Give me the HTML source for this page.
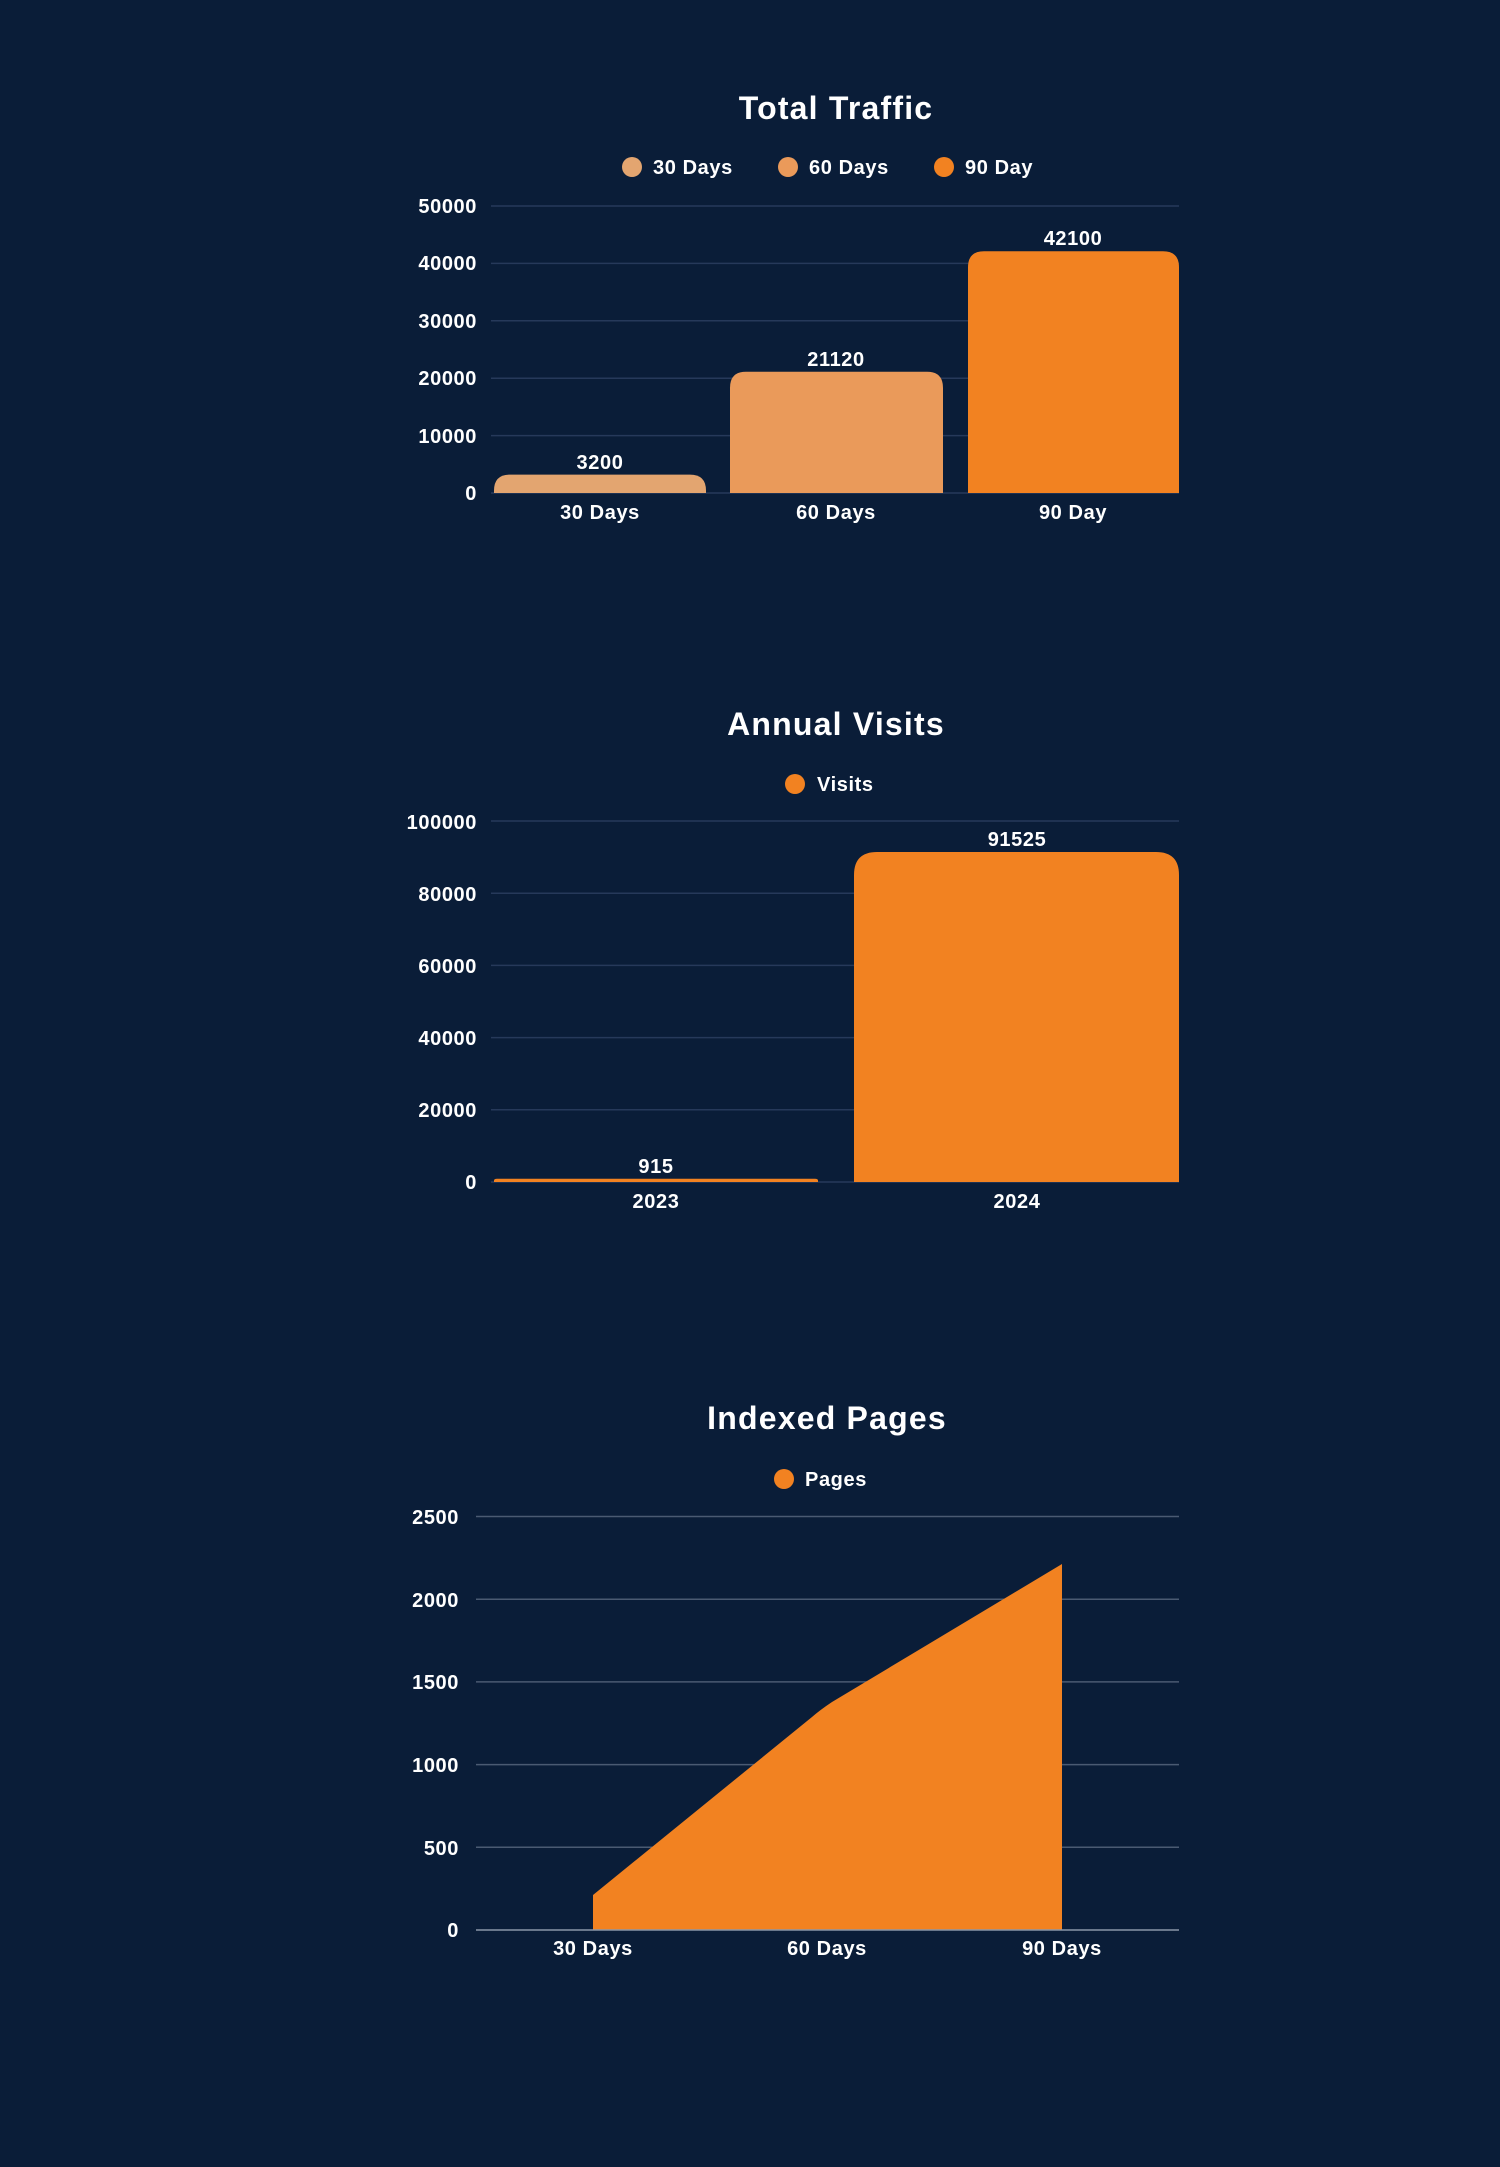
<!DOCTYPE html>
<html><head><meta charset="utf-8"><style>
html,body{margin:0;padding:0;background:#0A1D38;}
svg{display:block}
text{font-family:"Liberation Sans",sans-serif;font-weight:bold;fill:#fff;letter-spacing:0.6px}
.t{letter-spacing:1.2px}
</style></head><body>
<svg width="1500" height="2167" viewBox="0 0 1500 2167" xmlns="http://www.w3.org/2000/svg">
<rect width="1500" height="2167" fill="#0A1D38"/>
<!-- Chart 1 -->
<text class="t" x="836" y="119" font-size="32" text-anchor="middle">Total Traffic</text>
<g font-size="20">
<circle cx="632" cy="167" r="10" fill="#E3A570"/><text x="653" y="174">30 Days</text>
<circle cx="788" cy="167" r="10" fill="#EA9A5A"/><text x="809" y="174">60 Days</text>
<circle cx="944" cy="167" r="10" fill="#F28221"/><text x="965" y="174">90 Day</text>
</g>
<g stroke="#26395A" stroke-width="1.5">
<line x1="491" y1="206" x2="1179" y2="206"/><line x1="491" y1="263.4" x2="1179" y2="263.4"/>
<line x1="491" y1="320.8" x2="1179" y2="320.8"/><line x1="491" y1="378.2" x2="1179" y2="378.2"/>
<line x1="491" y1="435.6" x2="1179" y2="435.6"/><line x1="491" y1="493" x2="1179" y2="493"/>
</g>
<g font-size="20" text-anchor="end">
<text x="477" y="213">50000</text><text x="477" y="270">40000</text><text x="477" y="328">30000</text>
<text x="477" y="385">20000</text><text x="477" y="443">10000</text><text x="477" y="500">0</text>
</g>
<path d="M494 493 V490.6 Q494 474.6 510 474.6 H690 Q706 474.6 706 490.6 V493 Z" fill="#E3A570"/>
<path d="M730 493 V387.8 Q730 371.8 746 371.8 H927 Q943 371.8 943 387.8 V493 Z" fill="#EA9A5A"/>
<path d="M968 493 V267.3 Q968 251.3 984 251.3 H1163 Q1179 251.3 1179 267.3 V493 Z" fill="#F28221"/>
<g font-size="20" text-anchor="middle">
<text x="600" y="469">3200</text><text x="836" y="366">21120</text><text x="1073" y="245">42100</text>
<text x="600" y="519">30 Days</text><text x="836" y="519">60 Days</text><text x="1073" y="519">90 Day</text>
</g>
<!-- Chart 2 -->
<text class="t" x="836" y="735" font-size="32" text-anchor="middle">Annual Visits</text>
<circle cx="795" cy="784" r="10" fill="#F28221"/><text x="817" y="791" font-size="20">Visits</text>
<g stroke="#26395A" stroke-width="1.5">
<line x1="491" y1="821" x2="1179" y2="821"/><line x1="491" y1="893.2" x2="1179" y2="893.2"/>
<line x1="491" y1="965.4" x2="1179" y2="965.4"/><line x1="491" y1="1037.6" x2="1179" y2="1037.6"/>
<line x1="491" y1="1109.8" x2="1179" y2="1109.8"/><line x1="491" y1="1182" x2="1179" y2="1182"/>
</g>
<g font-size="20" text-anchor="end">
<text x="477" y="829">100000</text><text x="477" y="901">80000</text><text x="477" y="973">60000</text>
<text x="477" y="1045">40000</text><text x="477" y="1117">20000</text><text x="477" y="1189">0</text>
</g>
<path d="M494 1182 V1180.5 Q494 1178.7 497 1178.7 H815 Q818 1178.7 818 1180.5 V1182 Z" fill="#F28221"/>
<path d="M854 1182 V875 Q854 852 877 852 H1156 Q1179 852 1179 875 V1182 Z" fill="#F28221"/>
<g font-size="20" text-anchor="middle">
<text x="656" y="1173">915</text><text x="1017" y="846">91525</text>
<text x="656" y="1208">2023</text><text x="1017" y="1208">2024</text>
</g>
<!-- Chart 3 -->
<text class="t" x="827" y="1429" font-size="32" text-anchor="middle">Indexed Pages</text>
<circle cx="784" cy="1479" r="10" fill="#F28221"/><text x="805" y="1486" font-size="20">Pages</text>
<g stroke="#4A5A72" stroke-width="1.5">
<line x1="476" y1="1516.5" x2="1179" y2="1516.5"/><line x1="476" y1="1599.2" x2="1179" y2="1599.2"/>
<line x1="476" y1="1681.9" x2="1179" y2="1681.9"/><line x1="476" y1="1764.6" x2="1179" y2="1764.6"/>
<line x1="476" y1="1847.3" x2="1179" y2="1847.3"/>
</g>
<path d="M593 1930 V1895 L812 1717 Q820 1710 832 1702 L1062 1564 V1930 Z" fill="#F28221"/>
<line x1="476" y1="1930" x2="1179" y2="1930" stroke="#8A96A8" stroke-width="1.5"/>
<g font-size="20" text-anchor="end">
<text x="459" y="1524">2500</text><text x="459" y="1607">2000</text><text x="459" y="1689">1500</text>
<text x="459" y="1772">1000</text><text x="459" y="1855">500</text><text x="459" y="1937">0</text>
</g>
<g font-size="20" text-anchor="middle">
<text x="593" y="1955">30 Days</text><text x="827" y="1955">60 Days</text><text x="1062" y="1955">90 Days</text>
</g>
</svg>
</body></html>
